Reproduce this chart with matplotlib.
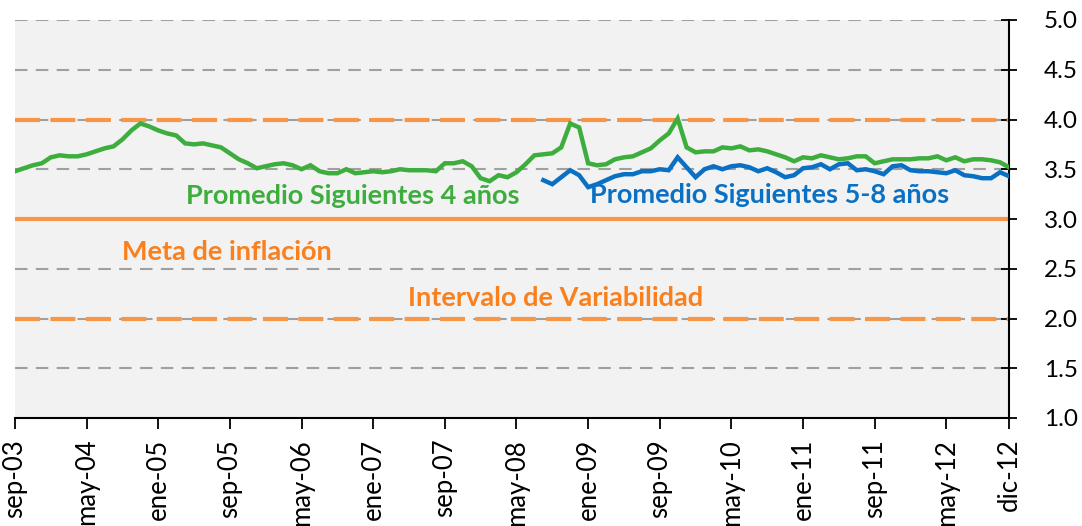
import matplotlib
matplotlib.use("Agg")
import matplotlib.pyplot as plt
import numpy as np

# Monthly data, sep-2003 .. dic-2012
start_year, start_month = 2003, 9
green_4y = [3.48, 3.51, 3.54, 3.56, 3.62, 3.64, 3.63, 3.63, 3.65, 3.68,
            3.71, 3.73, 3.80, 3.89, 3.96, 3.93, 3.89, 3.86, 3.84, 3.76,
            3.75, 3.76, 3.74, 3.72, 3.66, 3.60, 3.56, 3.51, 3.53, 3.55,
            3.56, 3.54, 3.50, 3.54, 3.48, 3.46, 3.46, 3.50, 3.46, 3.47,
            3.48, 3.47, 3.48, 3.50, 3.49, 3.49, 3.49, 3.48, 3.56, 3.56,
            3.58, 3.53, 3.41, 3.38, 3.44, 3.42, 3.47, 3.55, 3.64, 3.65,
            3.66, 3.72, 3.96, 3.92, 3.56, 3.54, 3.55, 3.60, 3.62, 3.63,
            3.67, 3.71, 3.79, 3.86, 4.01, 3.72, 3.67, 3.68, 3.68, 3.72,
            3.71, 3.73, 3.69, 3.70, 3.68, 3.65, 3.62, 3.58, 3.62, 3.61,
            3.64, 3.62, 3.60, 3.61, 3.63, 3.63, 3.56, 3.58, 3.60, 3.60,
            3.60, 3.61, 3.61, 3.63, 3.59, 3.62, 3.58, 3.60, 3.60, 3.59,
            3.57, 3.52]
blue_start_index = 59  # ago-08
blue_5_8y = [3.39, 3.35, 3.42, 3.49, 3.44, 3.32, 3.35, 3.39, 3.43, 3.45,
             3.45, 3.48, 3.48, 3.50, 3.49, 3.62, 3.52, 3.42, 3.50, 3.53,
             3.50, 3.53, 3.54, 3.52, 3.48, 3.51, 3.47, 3.42, 3.44, 3.51,
             3.52, 3.55, 3.50, 3.55, 3.56, 3.49, 3.50, 3.48, 3.45, 3.53,
             3.54, 3.49, 3.48, 3.48, 3.47, 3.46, 3.49, 3.44, 3.43, 3.41,
             3.41, 3.47, 3.43]
tick_labels = ["sep-03", "may-04", "ene-05", "sep-05", "may-06", "ene-07",
               "sep-07", "may-08", "ene-09", "sep-09", "may-10", "ene-11",
               "sep-11", "may-12", "dic-12"]
meta = 3.0
intervalo = [2.0, 4.0]

GREEN = "#3DAE3D"
BLUE = "#0A70C4"
ORANGE = "#F79646"
ORANGE_TXT = "#F9801D"
GRAY = "#A0A0A0"

x_green = np.arange(len(green_4y))
x_blue = np.arange(blue_start_index, blue_start_index + len(blue_5_8y))
tick_pos = list(range(0, len(green_4y), 8))[:len(tick_labels) - 1] + [len(green_4y) - 1]

fig = plt.figure(figsize=(10.82, 5.26), dpi=100)
ax = fig.add_axes([15 / 1082, 108 / 526, (1009 - 15) / 1082, (418 - 20) / 526])
ax.set_facecolor("#F2F2F2")

# gridlines
for v in [1.5, 2.0, 2.5, 3.5, 4.0, 4.5, 5.0]:
    ax.axhline(v, color=GRAY, lw=1.5, ls=(0, (6, 4)), zorder=1)
for v in intervalo:
    ax.axhline(v, color=ORANGE, lw=3, ls=(0, (6, 2.5)), zorder=2)
ax.axhline(meta, color=ORANGE, lw=3, zorder=2)

ax.plot(x_green, green_4y, color=GREEN, lw=3.2, zorder=4, solid_joinstyle="miter")
ax.plot(x_blue, blue_5_8y, color=BLUE, lw=3.2, zorder=4, solid_joinstyle="miter")

ax.set_xlim(0, len(green_4y) - 1)
ax.set_ylim(1.0, 5.0)

ax.yaxis.tick_right()
ax.set_yticks(np.arange(1.0, 5.01, 0.5))
ax.set_yticklabels([f"{v:.1f}" for v in np.arange(1.0, 5.01, 0.5)])
ax.set_xticks(tick_pos)
ax.set_xticklabels(tick_labels, rotation=90)

font = "Lato"
for lab in ax.get_yticklabels():
    lab.set_fontfamily(font)
    lab.set_fontsize(17.5)
for lab in ax.get_xticklabels():
    lab.set_fontfamily(font)
    lab.set_fontsize(18.5)
ax.tick_params(axis="y", direction="inout", length=12, width=1.3, pad=19, right=True, left=False)
ax.tick_params(axis="x", direction="out", length=8, width=1.3, pad=7)

for s in ["top", "left"]:
    ax.spines[s].set_visible(False)
for s in ["bottom", "right"]:
    ax.spines[s].set_linewidth(1.5)
    ax.spines[s].set_color("black")

def xpix(px):
    return (px - 15) / (1009 - 15) * (len(green_4y) - 1)

ax.text(xpix(186), 3.23, "Promedio Siguientes 4 años", color=GREEN,
        fontsize=19.5, fontweight="bold", family=font, va="center", ha="left", zorder=5)
ax.text(xpix(590), 3.24, "Promedio Siguientes 5-8 años", color=BLUE,
        fontsize=19.5, fontweight="bold", family=font, va="center", ha="left", zorder=5)
ax.text(xpix(122), 2.67, "Meta de inflación", color=ORANGE_TXT,
        fontsize=19.5, fontweight="bold", family=font, va="center", ha="left", zorder=5)
ax.text(xpix(408), 2.21, "Intervalo de Variabilidad", color=ORANGE_TXT,
        fontsize=19.5, fontweight="bold", family=font, va="center", ha="left", zorder=5)

fig.savefig("out.png", dpi=100)
